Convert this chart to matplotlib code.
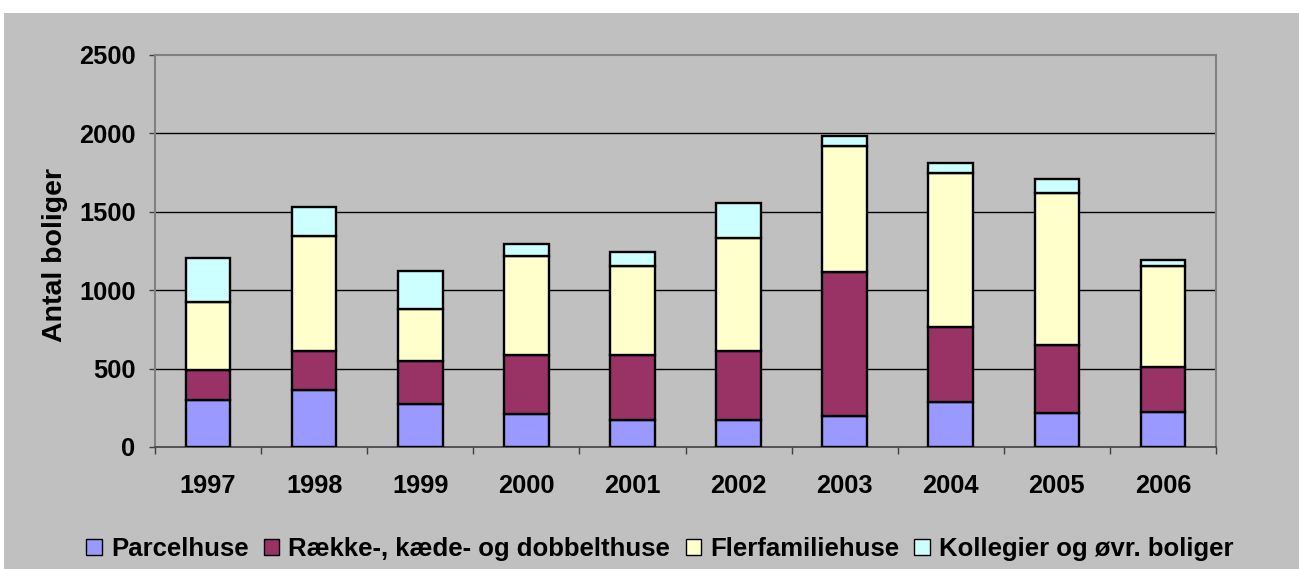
import matplotlib
matplotlib.use("Agg")
import matplotlib.pyplot as plt
from matplotlib.patches import Rectangle, Patch
import numpy as np

years = ["1997", "1998", "1999", "2000", "2001", "2002", "2003", "2004", "2005", "2006"]
parcelhuse = [300, 363, 274, 210, 172, 172, 198, 287, 214, 223]
raekke = [190, 251, 277, 379, 417, 438, 920, 480, 439, 289]
flerfamilie = [435, 732, 329, 629, 565, 721, 804, 978, 969, 642]
kollegier = [280, 187, 240, 77, 90, 225, 64, 64, 85, 36]

series_names = ["Parcelhuse", "Række-, kæde- og dobbelthuse", "Flerfamiliehuse",
                "Kollegier og øvr. boliger"]
series_colors = ["#9999FF", "#993366", "#FFFFCC", "#CCFFFF"]
y_ticks = [0, 500, 1000, 1500, 2000, 2500]
y_label = "Antal boliger"

plt.rcParams['font.family'] = ['Liberation Sans', 'DejaVu Sans']
plt.rcParams['font.weight'] = 'bold'

W, H = 1299, 569
fig = plt.figure(figsize=(W / 100, H / 100), dpi=100)
fig.patch.set_facecolor("white")
bg = Rectangle((4 / W, 0), 1 - 4 / W, (H - 13) / H, transform=fig.transFigure,
               facecolor="#C0C0C0", edgecolor="none", zorder=-10)
fig.patches.append(bg)

ax = fig.add_axes([155 / W, (H - 447) / H, (1216 - 155) / W, (447 - 55) / H])
ax.set_zorder(1)
ax.set_facecolor("#C0C0C0")

x = np.arange(len(years))
bottom = np.zeros(len(years))
handles = []
for vals, name, col in zip([parcelhuse, raekke, flerfamilie, kollegier], series_names, series_colors):
    ax.bar(x, vals, width=0.42, bottom=bottom, color=col, edgecolor="black", linewidth=1.7,
           zorder=3)
    bottom += np.array(vals)
    handles.append(Patch(facecolor=col, edgecolor="black", linewidth=1.0, label=name))

ax.set_xlim(-0.5, len(years) - 0.5)
ax.set_ylim(0, 2500)
ax.set_yticks(y_ticks)
ax.set_yticklabels([str(t) for t in y_ticks], fontsize=18.3, fontweight="bold")
ax.set_xticks(x)
ax.set_xticklabels(years, fontsize=18.3, fontweight="bold")
ax.set_xticks(np.arange(-0.5, len(years)), minor=True)
ax.tick_params(axis="x", which="major", length=0, pad=19.5)
ax.tick_params(axis="x", which="minor", length=5, width=1, color="#404040", direction="out")
ax.tick_params(axis="y", which="major", length=4, width=1, color="#404040", pad=10)

for t in y_ticks[1:-1]:
    ax.axhline(t, color="black", linewidth=1.0, zorder=1)

for side in ["top", "right", "left"]:
    ax.spines[side].set_color("#808080")
    ax.spines[side].set_linewidth(1.5)
ax.spines["bottom"].set_color("#404040")
ax.spines["bottom"].set_linewidth(1.2)

ax.set_ylabel(y_label, fontsize=20.5, fontweight="bold")
ax.yaxis.set_label_coords(-(155 - 68) / (1216 - 155), 0.49)

leg = fig.legend(handles=handles, loc="center", bbox_to_anchor=(0.508, (H - 549) / H), ncol=4,
                 frameon=False, handlelength=0.6, handleheight=0.6, handletextpad=0.35,
                 columnspacing=0.6, prop={"weight": "bold", "size": 18.5})

fig.savefig("out.png", dpi=100, facecolor=fig.get_facecolor())
